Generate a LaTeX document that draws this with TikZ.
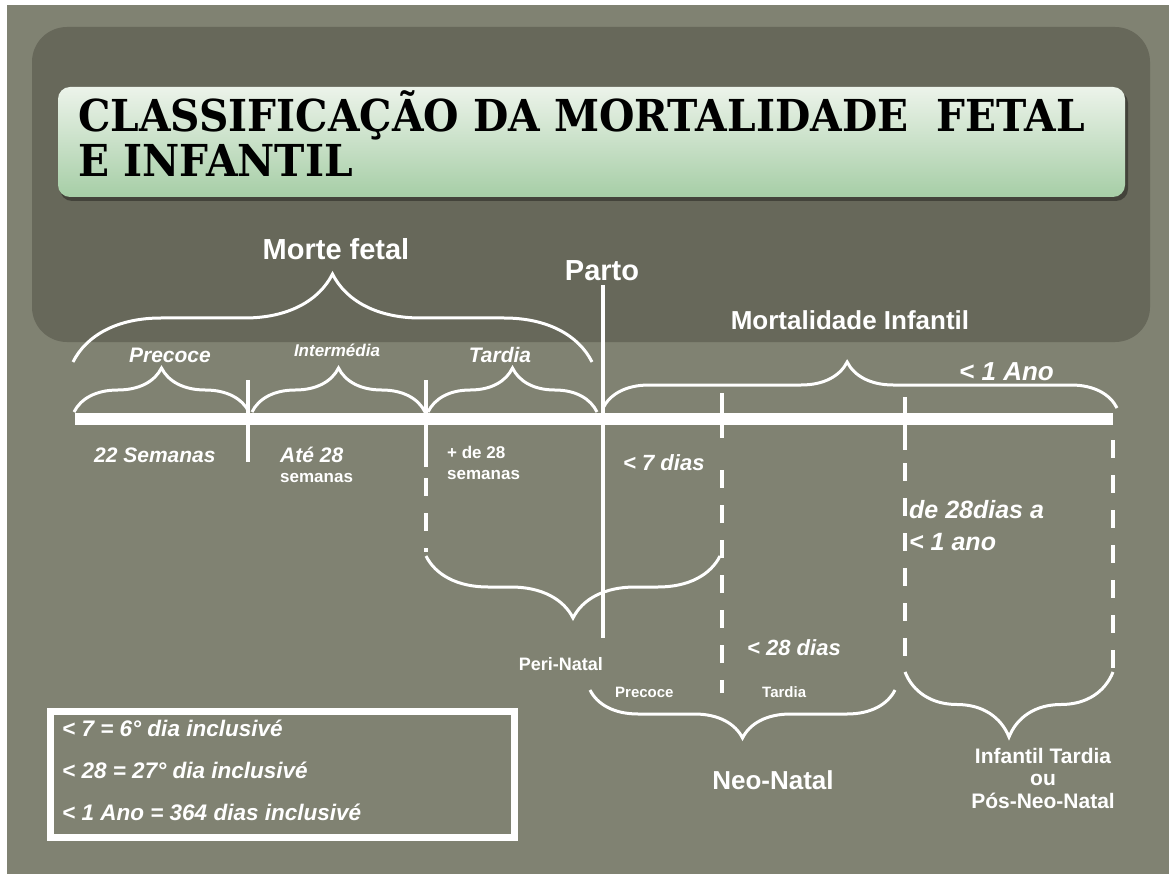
\documentclass[tikz,border=0pt]{standalone}
\usepackage{fontspec}
\setmainfont{Liberation Sans}
\newfontfamily\titlefont[FakeStretch=0.925]{DejaVu Serif}
\usetikzlibrary{decorations.pathreplacing}
\definecolor{slidegray}{RGB}{128,130,114}
\definecolor{paneldark}{RGB}{103,104,90}
\definecolor{titletop}{RGB}{236,243,234}
\definecolor{titlebot}{RGB}{166,206,166}
\tikzset{
  hd/.style={text=white, inner sep=0pt, font=\bfseries\fontsize{#1}{#1}\selectfont},
  it/.style={text=white, inner sep=0pt, font=\bfseries\itshape\fontsize{#1}{#1}\selectfont},
  brc/.style={draw=white, line width=3pt, decorate, decoration={brace, amplitude=#1}},
  brcm/.style={draw=white, line width=3pt, decorate, decoration={brace, mirror, amplitude=#1}},
  tickline/.style={draw=white, line width=4pt},
  dashline/.style={draw=white, line width=4.5pt, dash pattern=on 18pt off 17pt}
}
\begin{document}
\begin{tikzpicture}[x=1pt,y=-1pt]
\useasboundingbox (0,0) rectangle (1169,874);
\fill[white] (0,0) rectangle (1169,874);
\fill[slidegray] (7,5) rectangle (1169,874);
\fill[paneldark, rounded corners=35pt] (32,27) rectangle (1150,342);
\fill[black, opacity=0.35, rounded corners=12pt] (60,91) rectangle (1128,201);
\shade[top color=titletop, bottom color=titlebot, rounded corners=12pt] (58,87) rectangle (1125,197);
\node[anchor=base west, inner sep=0pt, align=left, font=\titlefont\bfseries\fontsize{44}{45}\selectfont] (title) at (78,177) {CLASSIFICAÇÃO DA MORTALIDADE\ \ FETAL\\E INFANTIL};

% time line and marks
\coordinate (t0) at (75,419);
\coordinate (w22) at (248,419);
\coordinate (w28) at (426,419);
\coordinate (pt) at (603,419);
\coordinate (d7) at (722,419);
\coordinate (d28) at (905,419);
\coordinate (a1) at (1113,419);
\draw[white, line width=12pt] (t0) -- (a1);
\draw[tickline] (248,380) -- (248,462);
\draw[tickline] (426,380) -- (426,467);
\draw[dashline] (426,478) -- (426,552);
\draw[tickline] (603,285) -- (603,638);
\draw[tickline] (722,393) -- (722,438);
\draw[dashline] (722,470) -- (722,693);
\draw[tickline] (905,397) -- (905,450);
\draw[dashline] (905,463) -- (905,668);
\draw[dashline] (1113,440) -- (1113,680);

% braces
\draw[brc=88] (73,362) -- (592,362);
\draw[brc=44] (74,412) -- (249,412);
\draw[brc=44] (252,412) -- (425,412);
\draw[brc=44] (428,412) -- (597,412);
\draw[white, line width=3pt, decorate, decoration={brace, amplitude=46, aspect=0.475}] (603,408) -- (1117,408);
\draw[brcm=62] (426,556) -- (720,556);
\draw[brcm=48] (590,690) -- (895,690);
\draw[brcm=65] (905,672) -- (1113,672);

% labels
\node[hd=29] (fetal) at (336,249) {Morte fetal};
\node[hd=29] (parto) at (602,271) {Parto};
\node[hd=26] (infantil) at (850,320) {Mortalidade Infantil};
\node[it=21] (precoce) at (170,355) {Precoce};
\node[it=17] (interm) at (337,350) {Intermédia};
\node[it=21] (tardia) at (500,355) {Tardia};
\node[it=26, anchor=west] (ano) at (959,372) {< 1 Ano};
\node[it=21, anchor=west] (s22) at (94,455) {22 Semanas};
\node[it=21, anchor=west] (ate) at (280,455) {Até 28};
\node[hd=17, anchor=west] (sem1) at (280,478) {semanas};
\node[hd=17, anchor=west] (mais) at (447,452) {+ de 28};
\node[hd=17, anchor=west] (sem2) at (447,475) {semanas};
\node[it=22, anchor=west] (dias7) at (623,463) {< 7 dias};
\node[it=25, anchor=west] (de28) at (909,510) {de 28dias a};
\node[it=25, anchor=west] (ano2) at (909,542) {< 1 ano};
\node[it=22, anchor=west] (dias28) at (747,648) {< 28 dias};
\node[hd=18, anchor=east] (peri) at (603,664) {Peri-Natal};
\node[hd=15, anchor=west] (neoprec) at (615,692) {Precoce};
\node[hd=15, anchor=west] (neotard) at (762,692) {Tardia};
\node[hd=26] (neo) at (773,780) {Neo-Natal};
\node[hd=21, align=center, font=\bfseries\fontsize{21}{22.5}\selectfont] (pos) at (1043,778) {Infantil Tardia\\ou\\Pós-Neo-Natal};

% legend
\draw[white, line width=7pt] (50,711) rectangle (514,837);
\node[it=22.5, anchor=west] (l1) at (62,728) {< 7 = 6° dia inclusivé};
\node[it=22.5, anchor=west] (l2) at (62,770) {< 28 = 27° dia inclusivé};
\node[it=22.5, anchor=west] (l3) at (62,812) {< 1 Ano = 364 dias inclusivé};
\end{tikzpicture}
\end{document}
